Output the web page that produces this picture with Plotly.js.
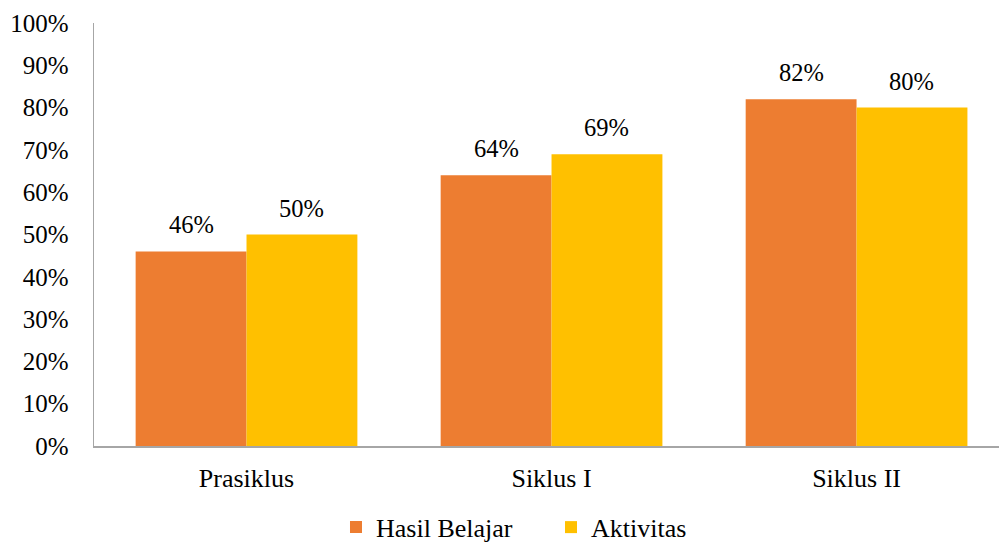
<!DOCTYPE html>
<html>
<head>
<meta charset="utf-8">
<script src="https://cdn.plot.ly/plotly-3.0.1.min.js"></script>
<style>html,body{margin:0;padding:0;background:#fff;}#chart{width:999px;height:544px;}</style>
</head>
<body>
<div id="chart"></div>
<script>
var categories = ["Prasiklus", "Siklus I", "Siklus II"];
var hasilBelajar = [0.46, 0.64, 0.82];
var aktivitas = [0.50, 0.69, 0.80];
var seriesNames = ["Hasil Belajar", "Aktivitas"];
var seriesColors = ["#ED7D31", "#FFC000"];

var FAMILY = "'Liberation Serif', 'Times New Roman', serif";
function f(size) { return {family: FAMILY, size: size, color: "#000"}; }
var BARGAP = 0.273;

var seriesValues = [hasilBelajar, aktivitas];
var traces = seriesValues.map(function (vals, s) {
  return {type: "bar", name: seriesNames[s], x: categories, y: vals,
          marker: {color: seriesColors[s]}, hoverinfo: "none"};
});

// value labels above each bar, positioned by the library from the data
var annotations = [];
seriesValues.forEach(function (vals, s) {
  var off = (s === 0 ? -1 : 1) * (1 - BARGAP) / 4;
  vals.forEach(function (v, i) {
    annotations.push({xref: "x", yref: "y", x: i + off, y: v,
      text: Math.round(v * 100) + "%", showarrow: false,
      xanchor: "center", yanchor: "bottom", yshift: 11, font: f(24.5)});
  });
});

var layout = {
  width: 999, height: 544,
  margin: {l: 94, r: 0, t: 23, b: 98, autoexpand: false},
  paper_bgcolor: "#fff", plot_bgcolor: "#fff",
  font: f(24),
  barmode: "group", bargap: BARGAP, bargroupgap: 0,
  showlegend: true,
  legend: {orientation: "h", x: 0.2674, xanchor: "left", y: -0.192, yanchor: "middle",
           font: f(26), itemwidth: 30, entrywidth: 170, entrywidthmode: "pixels",
           traceorder: "normal"},
  annotations: annotations,
  xaxis: {type: "category", range: [-0.5, 2.467], showline: true, linecolor: "#A6A6A6", linewidth: 1.5,
          showgrid: false, ticks: "outside", ticklen: 8, tickcolor: "rgba(0,0,0,0)",
          tickfont: f(26), zeroline: false},
  yaxis: {range: [0, 1], dtick: 0.1, tickformat: ".0%", showline: true, linecolor: "#A6A6A6",
          linewidth: 1.5, showgrid: false, zeroline: false, ticks: "outside", ticklen: 19,
          tickcolor: "rgba(0,0,0,0)", tickfont: f(25)}
};

Plotly.newPlot("chart", traces, layout, {displayModeBar: false, staticPlot: true});
</script>
</body>
</html>
